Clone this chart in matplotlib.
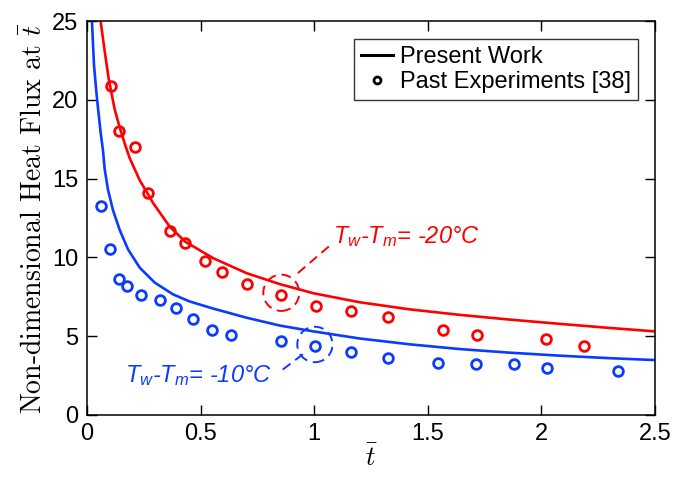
import matplotlib
matplotlib.use("Agg")
import matplotlib.pyplot as plt
from matplotlib.patches import Ellipse
from matplotlib.lines import Line2D

plt.rcParams['mathtext.fontset'] = 'custom'
plt.rcParams['mathtext.it'] = 'Liberation Sans:italic'
plt.rcParams['mathtext.rm'] = 'Liberation Sans'
plt.rcParams['font.family'] = ['Liberation Sans', 'DejaVu Sans']

RED = '#ff0000'
BLUE = '#0a3cff'

# Present work (model curves)
red_line_t = [0.060, 0.077, 0.096, 0.122, 0.145, 0.169, 0.188, 0.232, 0.269, 0.291, 0.364, 0.432,
              0.555, 0.702, 0.849, 0.997, 1.20, 1.42, 1.64, 1.86, 2.08, 2.30, 2.5]
red_line_q = [25.0, 23.2, 21.3, 19.4, 18.2, 17.1, 16.3, 14.9, 14.0, 13.45, 11.95, 11.0,
              9.95, 9.0, 8.3, 7.72, 7.15, 6.7, 6.35, 6.05, 5.78, 5.52, 5.3]
blue_line_t = [0.022, 0.031, 0.044, 0.060, 0.0705, 0.078, 0.0925, 0.1145, 0.144, 0.181, 0.232,
               0.298, 0.379, 0.452, 0.555, 0.702, 0.849, 0.997, 1.20, 1.42, 1.64, 1.86,
               2.08, 2.30, 2.5]
blue_line_q = [25.0, 22.2, 20.1, 17.95, 16.8, 15.6, 14.3, 13.0, 11.74, 10.5, 9.35,
               8.4, 7.65, 7.2, 6.75, 6.17, 5.67, 5.3, 4.85, 4.48, 4.18, 3.95,
               3.76, 3.6, 3.48]

# Past experiments [38]
red_exp_t = [0.106, 0.141, 0.211, 0.269, 0.366, 0.432, 0.52, 0.595, 0.705, 0.855, 1.01, 1.163, 1.326, 1.568, 1.718, 2.02, 2.185]
red_exp_q = [20.9, 18.0, 17.0, 14.1, 11.7, 10.9, 9.8, 9.05, 8.3, 7.6, 6.9, 6.6, 6.2, 5.4, 5.1, 4.8, 4.4]
blue_exp_t = [0.060, 0.100, 0.142, 0.178, 0.237, 0.322, 0.391, 0.467, 0.552, 0.633, 0.855, 1.003, 1.163, 1.325, 1.546, 1.712, 1.877, 2.023, 2.335]
blue_exp_q = [13.25, 10.5, 8.6, 8.2, 7.6, 7.3, 6.8, 6.1, 5.4, 5.1, 4.7, 4.37, 4.0, 3.6, 3.3, 3.2, 3.2, 3.0, 2.8]

xticks = [0, 0.5, 1, 1.5, 2, 2.5]
xticklabels = ['0', '0.5', '1', '1.5', '2', '2.5']
yticks = [0, 5, 10, 15, 20, 25]

fig = plt.figure(figsize=(6.74, 4.78), dpi=100)
ax = fig.add_axes([0.129, 0.132, 0.843, 0.824])

ax.plot(red_line_t, red_line_q, color=RED, lw=1.9)
ax.plot(blue_line_t, blue_line_q, color=BLUE, lw=1.9)
ax.plot(red_exp_t, red_exp_q, 'o', mfc='none', mec=RED, ms=7, mew=2)
ax.plot(blue_exp_t, blue_exp_q, 'o', mfc='none', mec=BLUE, ms=7, mew=2)

ax.set_xlim(0, 2.5)
ax.set_ylim(0, 25)
ax.set_xticks(xticks)
ax.set_xticklabels(xticklabels)
ax.set_yticks(yticks)
ax.tick_params(direction='in', length=7, width=1, top=True, right=True,
               labelsize=17, pad=6)
for s in ax.spines.values():
    s.set_linewidth(1.1)

ax.set_ylabel(r'Non-dimensional Heat Flux at $\bar{t}$', family='cmr10',
              math_fontfamily='cm', fontsize=20, labelpad=3)
ax.set_xlabel(r'$\bar{t}$', math_fontfamily='cm', fontsize=19, labelpad=0)

# Annotations
ri, bi = 9, 11
ax.add_patch(Ellipse((red_exp_t[ri], red_exp_q[ri] + 0.15), 0.158, 2.3, fill=False,
                     ec=RED, lw=1.4, ls=(0, (5, 3))))
ax.add_patch(Ellipse((blue_exp_t[bi], blue_exp_q[bi] + 0.1), 0.155, 2.25, fill=False,
                     ec=BLUE, lw=1.4, ls=(0, (5, 3))))
ax.plot([0.928, 1.069], [9.0, 10.75], color=RED, lw=1.4, ls=(0, (5, 3)))
ax.plot([0.95, 0.85], [3.85, 2.75], color=BLUE, lw=1.4, ls=(0, (5, 3)))

ax.text(1.083, 11.3, r'$T_w$-$T_m$= -20°C', color=RED, fontsize=17,
        style='italic', va='center', ha='left')
ax.text(0.166, 2.5, r'$T_w$-$T_m$= -10°C', color=BLUE, fontsize=17,
        style='italic', va='center', ha='left')

handles = [Line2D([], [], color='black', lw=2.2),
           Line2D([], [], ls='none', marker='o', mfc='none', mec='black', ms=5, mew=2)]
leg = ax.legend(handles, ['Present Work', 'Past Experiments [38]'], loc='upper right',
                fontsize=17, frameon=True, fancybox=False, edgecolor='black',
                handlelength=1.35, handletextpad=0.3, borderpad=0.3,
                labelspacing=0.15, borderaxespad=0, bbox_to_anchor=(0.97, 0.955))
leg.get_frame().set_linewidth(1.0)

fig.savefig('out.png', dpi=100)
